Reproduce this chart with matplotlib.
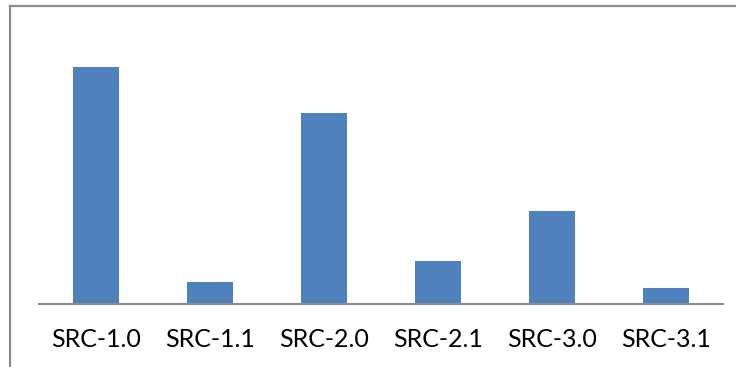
import matplotlib
matplotlib.use("Agg")
import matplotlib.pyplot as plt
from matplotlib.lines import Line2D

categories = ["SRC-1.0", "SRC-1.1", "SRC-2.0", "SRC-2.1", "SRC-3.0", "SRC-3.1"]
values = [237, 22, 191, 43, 93, 16]

W, H = 742, 367
fig = plt.figure(figsize=(W / 100, H / 100), dpi=100)
fig.patch.set_facecolor("white")

ax = fig.add_axes([39 / W, (H - 304) / H, (723 - 39) / W, (304 - 24) / H])
ax.bar(range(len(categories)), values, width=0.4, color="#4F81BD")
ax.set_xlim(-0.5, len(categories) - 0.5)
ax.set_ylim(0, 280)
ax.set_xticks(range(len(categories)))
ax.set_xticklabels(categories, fontfamily="Lato", fontsize=18)
ax.tick_params(axis="x", length=0, pad=17)
ax.set_yticks([])
for side in ("left", "right", "top"):
    ax.spines[side].set_visible(False)
ax.spines["bottom"].set_color("#8C8C8C")
ax.spines["bottom"].set_linewidth(1.5)

# outer frame (top and left edges)
frame_color = "#8C8C8C"
fig.add_artist(Line2D([10 / W, 735 / W], [(H - 6) / H, (H - 6) / H],
                      transform=fig.transFigure, color=frame_color, lw=1.6))
fig.add_artist(Line2D([10 / W, 10 / W], [(H - 6) / H, 0],
                      transform=fig.transFigure, color=frame_color, lw=1.6))

fig.savefig("out.png", dpi=100)
